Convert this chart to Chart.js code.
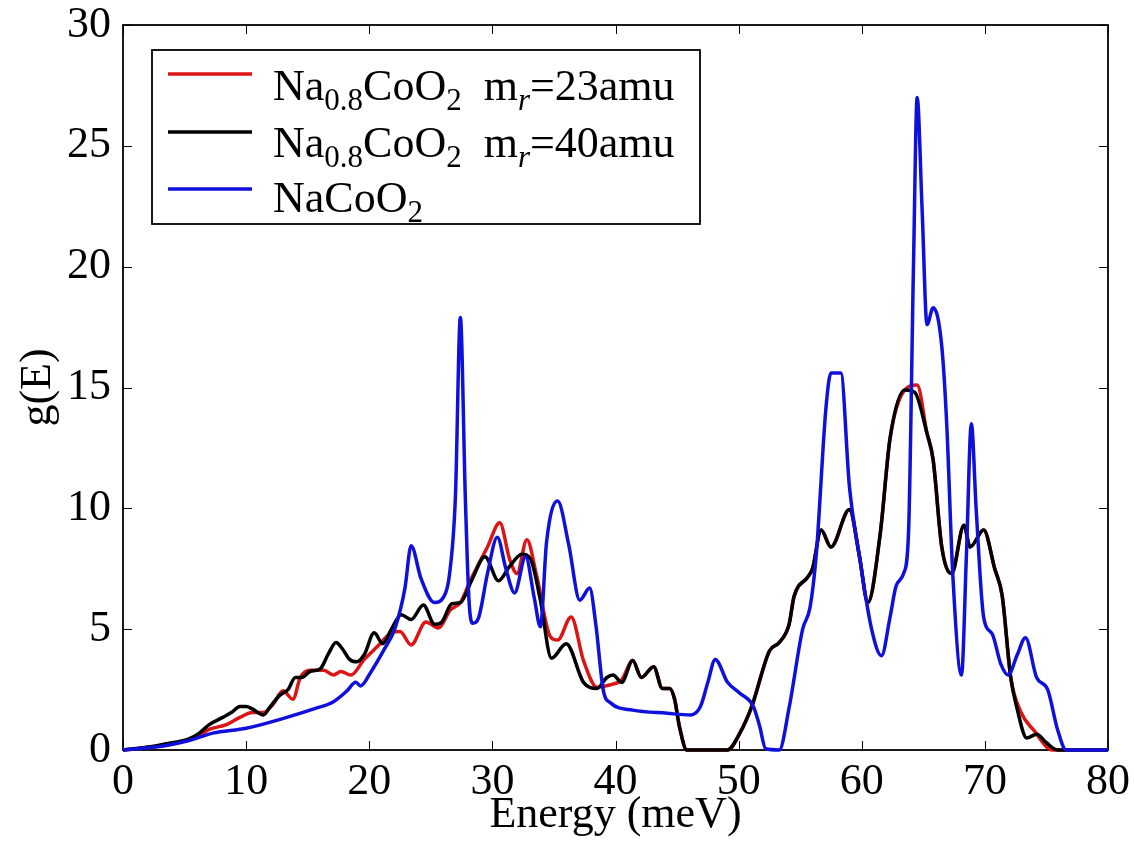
<!DOCTYPE html>
<html>
<head>
<meta charset="utf-8">
<script src="https://cdn.jsdelivr.net/npm/chart.js@4.4.0/dist/chart.umd.min.js"></script>
<style>
  body { margin: 0; background: #fff; }
</style>
</head>
<body>
<canvas id="dos" width="1134" height="842"></canvas>
<script>
// phonon density of states g(E)

const energyRed = [0, 2, 4, 5.3, 6.2, 7.0, 8.4, 9.5, 10.5, 11.4, 12.2, 13.0, 13.8, 14.4, 15.2, 16.3, 17.1, 17.7, 18.5, 19.6,
  20.7, 21.8, 22.5, 23.4, 24.6, 25.6, 26.6, 27.4, 28.2, 29.6, 30.6, 31.4, 32.0, 32.8, 33.6, 34.7, 35.3, 36.4, 37.4, 38.5,
  39.6, 40.5, 41.4, 42.1, 43.1, 43.8, 44.4, 44.8, 45.2, 45.8, 49.1, 50.1, 51.1, 52.5, 53.3, 54.1, 54.5, 55.6, 56.0, 56.7,
  57.5, 59.0, 59.8, 60.5, 61.5, 62.3, 63.5, 64.5, 65.3, 65.8, 66.5, 67.3, 68.3, 68.8, 69.9, 70.8, 71.4, 72.1, 72.9, 74.0,
  75.5, 80];
const gRed = [0, 0.1, 0.25, 0.42, 0.6, 0.85, 1.05, 1.35, 1.55, 1.55, 1.9, 2.45, 2.1, 3.0, 3.3, 3.3, 3.1, 3.25, 3.1, 3.75,
  4.3, 4.85, 4.9, 4.35, 5.3, 5.05, 5.8, 6.1, 7.0, 8.4, 9.4, 7.9, 7.3, 8.7, 7.2, 4.7, 4.55, 5.5, 3.7, 2.6,
  2.7, 2.9, 3.7, 3.0, 3.45, 2.55, 2.55, 2.1, 0.95, 0, 0, 0.7, 1.85, 4.1, 4.45, 5.2, 6.35, 7.15, 7.5, 9.1,
  8.4, 9.95, 8.05, 6.1, 8.95, 12.9, 14.9, 15.1, 13.1, 12.0, 8.4, 7.3, 9.3, 8.4, 9.1, 7.5, 6.4, 3.0, 1.6, 0.8,
  0, 0];

const energyBlack = [0, 2, 3.4, 5.3, 6.2, 7.0, 8.1, 8.8, 9.5, 10.0, 10.5, 11.4, 11.9, 12.7, 13.4, 14.0, 14.5, 15.2, 16.0, 16.7,
  17.3, 17.8, 18.4, 19.0, 19.6, 20.4, 21.1, 21.8, 22.6, 23.4, 24.4, 25.3, 25.9, 26.7, 27.4, 28.3, 29.4, 30.5, 31.4, 32.4,
  33.1, 33.9, 34.8, 36.0, 37.4, 38.5, 39.3, 39.8, 40.5, 41.4, 42.1, 43.1, 43.8, 44.4, 44.8, 45.2, 45.8, 49.1, 50.1, 51.1,
  52.5, 53.3, 54.1, 54.5, 55.6, 56.0, 56.7, 57.5, 59.0, 59.8, 60.5, 61.5, 62.3, 63.5, 64.3, 65.3, 65.8, 66.5, 67.3, 68.3,
  68.8, 69.9, 70.8, 71.4, 72.1, 72.6, 73.4, 74.2, 75.0, 75.9, 80];
const gBlack = [0, 0.12, 0.25, 0.45, 0.7, 1.05, 1.35, 1.55, 1.8, 1.8, 1.7, 1.45, 1.75, 2.25, 2.5, 3.0, 3.0, 3.25, 3.35, 4.0,
  4.45, 4.2, 3.75, 3.65, 3.95, 4.85, 4.4, 5.0, 5.6, 5.4, 6.0, 5.2, 5.3, 6.05, 6.1, 7.0, 8.0, 7.0, 7.6, 8.1,
  7.9, 6.2, 3.8, 4.4, 2.8, 2.55, 3.0, 3.1, 2.8, 3.7, 3.0, 3.45, 2.55, 2.55, 2.1, 0.95, 0, 0, 0.7, 1.85,
  4.1, 4.45, 5.2, 6.35, 7.15, 7.5, 9.1, 8.4, 9.95, 8.05, 6.1, 8.95, 12.9, 14.9, 14.8, 13.1, 12.0, 8.4, 7.3, 9.3,
  8.4, 9.1, 7.5, 6.4, 3.0, 1.75, 0.5, 0.65, 0.3, 0, 0];

const energyBlue = [0, 3.4, 5.3, 7.3, 10.0, 13.3, 15.5, 17.1, 18.2, 18.9, 19.3, 20.1, 21.2, 22.1, 22.9, 23.4, 24.2, 25.3, 26.0, 26.5,
  27.0, 27.4, 27.8, 28.1, 28.4, 28.9, 29.6, 30.4, 31.1, 31.8, 32.7, 33.4, 33.9, 34.4, 35.3, 36.2, 37.1, 37.9, 38.4, 39.0,
  39.6, 41.4, 44.2, 46.1, 46.9, 47.5, 48.1, 49.1, 50.1, 51.2, 51.7, 52.2, 53.3, 54.1, 55.2, 55.8, 56.3, 57.1, 57.5, 58.3,
  59.0, 59.8, 60.8, 61.6, 62.3, 62.8, 63.4, 63.8, 64.2, 64.5, 64.9, 65.3, 65.8, 66.5, 66.9, 67.4, 68.1, 68.5, 68.9, 69.3,
  69.9, 70.6, 71.3, 71.9, 72.6, 73.3, 74.2, 75.1, 75.9, 76.6, 80];
const gBlue = [0, 0.18, 0.38, 0.7, 0.9, 1.35, 1.7, 2.0, 2.45, 2.8, 2.65, 3.2, 4.15, 5.05, 6.7, 8.45, 7.1, 6.1, 6.3, 7.2,
  10.5, 17.9, 10.5, 6.2, 5.25, 5.5, 7.3, 8.8, 7.5, 6.5, 8.0, 6.3, 5.1, 8.6, 10.3, 8.5, 6.2, 6.7, 5.2, 2.5,
  1.95, 1.65, 1.52, 1.45, 1.8, 2.8, 3.75, 2.8, 2.35, 1.8, 1.0, 0.05, 0, 1.75, 5.0, 5.9, 8.05, 14.2, 15.6, 15.6,
  10.9, 8.05, 5.0, 3.9, 5.5, 6.8, 7.3, 9.0, 20, 27.0, 22.4, 17.6, 18.3, 16.7, 13.5, 7.2, 3.1, 8.05, 13.5, 9.9,
  5.5, 4.8, 3.55, 3.1, 3.9, 4.65, 3.0, 2.5, 0.85, 0, 0];

const xTicks = [0, 10, 20, 30, 40, 50, 60, 70, 80];
const yTicks = [0, 5, 10, 15, 20, 25, 30];

// legend text pieces (subscripts drawn smaller and lower)
const legendParts = [
  [['Na'], ['0.8', 'sub'], ['CoO'], ['2', 'sub'], ['  m'], ['r', 'subit'], ['=23amu']],
  [['Na'], ['0.8', 'sub'], ['CoO'], ['2', 'sub'], ['  m'], ['r', 'subit'], ['=40amu']],
  [['NaCoO'], ['2', 'sub']]
];

const serif = "'Liberation Serif', 'DejaVu Serif', serif";

function pts(xs, ys) {
  return xs.map((x, i) => ({x: x, y: ys[i]}));
}

const frame = {
  id: 'frame',
  beforeDatasetsDraw(chart) {
    const {ctx, chartArea: a, scales} = chart;
    ctx.save();
    ctx.strokeStyle = '#000';
    ctx.lineWidth = 1;
    xTicks.forEach(v => {
      const px = Math.round(scales.x.getPixelForValue(v)) + 0.5;
      ctx.beginPath();
      ctx.moveTo(px, a.bottom); ctx.lineTo(px, a.bottom - 9);
      ctx.moveTo(px, a.top); ctx.lineTo(px, a.top + 9);
      ctx.stroke();
    });
    yTicks.forEach(v => {
      const py = Math.round(scales.y.getPixelForValue(v)) + 0.5;
      ctx.beginPath();
      ctx.moveTo(a.left, py); ctx.lineTo(a.left + 9, py);
      ctx.moveTo(a.right, py); ctx.lineTo(a.right - 9, py);
      ctx.stroke();
    });
    ctx.lineWidth = 1.8;
    ctx.strokeRect(a.left, a.top, a.right - a.left, a.bottom - a.top);
    ctx.restore();
  }
};

const legendBox = {
  id: 'legendBox',
  afterDraw(chart) {
    const ctx = chart.ctx;
    const handleY = [74, 132, 189];
    const baseY = [100, 157, 212];
    ctx.save();
    ctx.fillStyle = '#fff';
    ctx.fillRect(152, 50, 548, 174);
    ctx.strokeStyle = '#000';
    ctx.lineWidth = 1.8;
    ctx.strokeRect(152, 50, 548, 174);
    chart.data.datasets.forEach((ds, i) => {
      ctx.strokeStyle = ds.borderColor;
      ctx.lineWidth = 3.5;
      ctx.beginPath();
      ctx.moveTo(168, handleY[i]);
      ctx.lineTo(252, handleY[i]);
      ctx.stroke();
      let x = 273;
      ctx.fillStyle = '#000';
      ctx.textBaseline = 'alphabetic';
      legendParts[i].forEach(p => {
        const kind = p[1];
        if (kind === 'sub') ctx.font = '31px ' + serif;
        else if (kind === 'subit') ctx.font = 'italic 31px ' + serif;
        else ctx.font = '44px ' + serif;
        const y = kind ? baseY[i] + 10 : baseY[i];
        ctx.fillText(p[0], x, y);
        x += ctx.measureText(p[0]).width;
      });
    });
    ctx.restore();
  }
};

new Chart(document.getElementById('dos'), {
  type: 'line',
  data: {
    datasets: [
      {
        label: 'Na0.8CoO2 mr=23amu',
        data: pts(energyRed, gRed),
        borderColor: '#dd1414',
        order: 3
      },
      {
        label: 'Na0.8CoO2 mr=40amu',
        data: pts(energyBlack, gBlack),
        borderColor: '#000000',
        order: 2
      },
      {
        label: 'NaCoO2',
        data: pts(energyBlue, gBlue),
        borderColor: '#1010dd',
        order: 1
      }
    ]
  },
  options: {
    responsive: false,
    animation: false,
    layout: { padding: { top: 25, right: 26, left: 0, bottom: 0 } },
    elements: {
      point: { radius: 0 },
      line: { borderWidth: 3.5, cubicInterpolationMode: 'monotone', fill: false }
    },
    datasets: { line: { clip: 4 } },
    plugins: {
      legend: { display: false },
      tooltip: { enabled: false }
    },
    scales: {
      x: {
        type: 'linear',
        min: 0,
        max: 80,
        afterBuildTicks: s => { s.ticks = xTicks.map(v => ({value: v})); },
        afterFit: s => { s.height = 92; s.paddingLeft = 0; s.paddingRight = 0; },
        grid: { display: false, drawTicks: false },
        border: { display: false },
        ticks: {
          color: '#000',
          padding: 6,
          maxRotation: 0,
          autoSkip: false,
          font: { family: serif, size: 44 }
        },
        title: {
          display: true,
          text: 'Energy (meV)',
          color: '#000',
          padding: { top: 0, bottom: 0 },
          font: { family: serif, size: 44 }
        }
      },
      y: {
        type: 'linear',
        min: 0,
        max: 30,
        afterBuildTicks: s => { s.ticks = yTicks.map(v => ({value: v})); },
        afterFit: s => { s.width = 123; s.paddingTop = 0; s.paddingBottom = 0; },
        grid: { display: false, drawTicks: false },
        border: { display: false },
        ticks: {
          color: '#000',
          padding: 12,
          autoSkip: false,
          font: { family: serif, size: 44 }
        },
        title: {
          display: true,
          text: 'g(E)',
          color: '#000',
          padding: { top: 12, bottom: 0 },
          font: { family: serif, size: 44 }
        }
      }
    }
  },
  plugins: [frame, legendBox]
});
</script>
</body>
</html>
